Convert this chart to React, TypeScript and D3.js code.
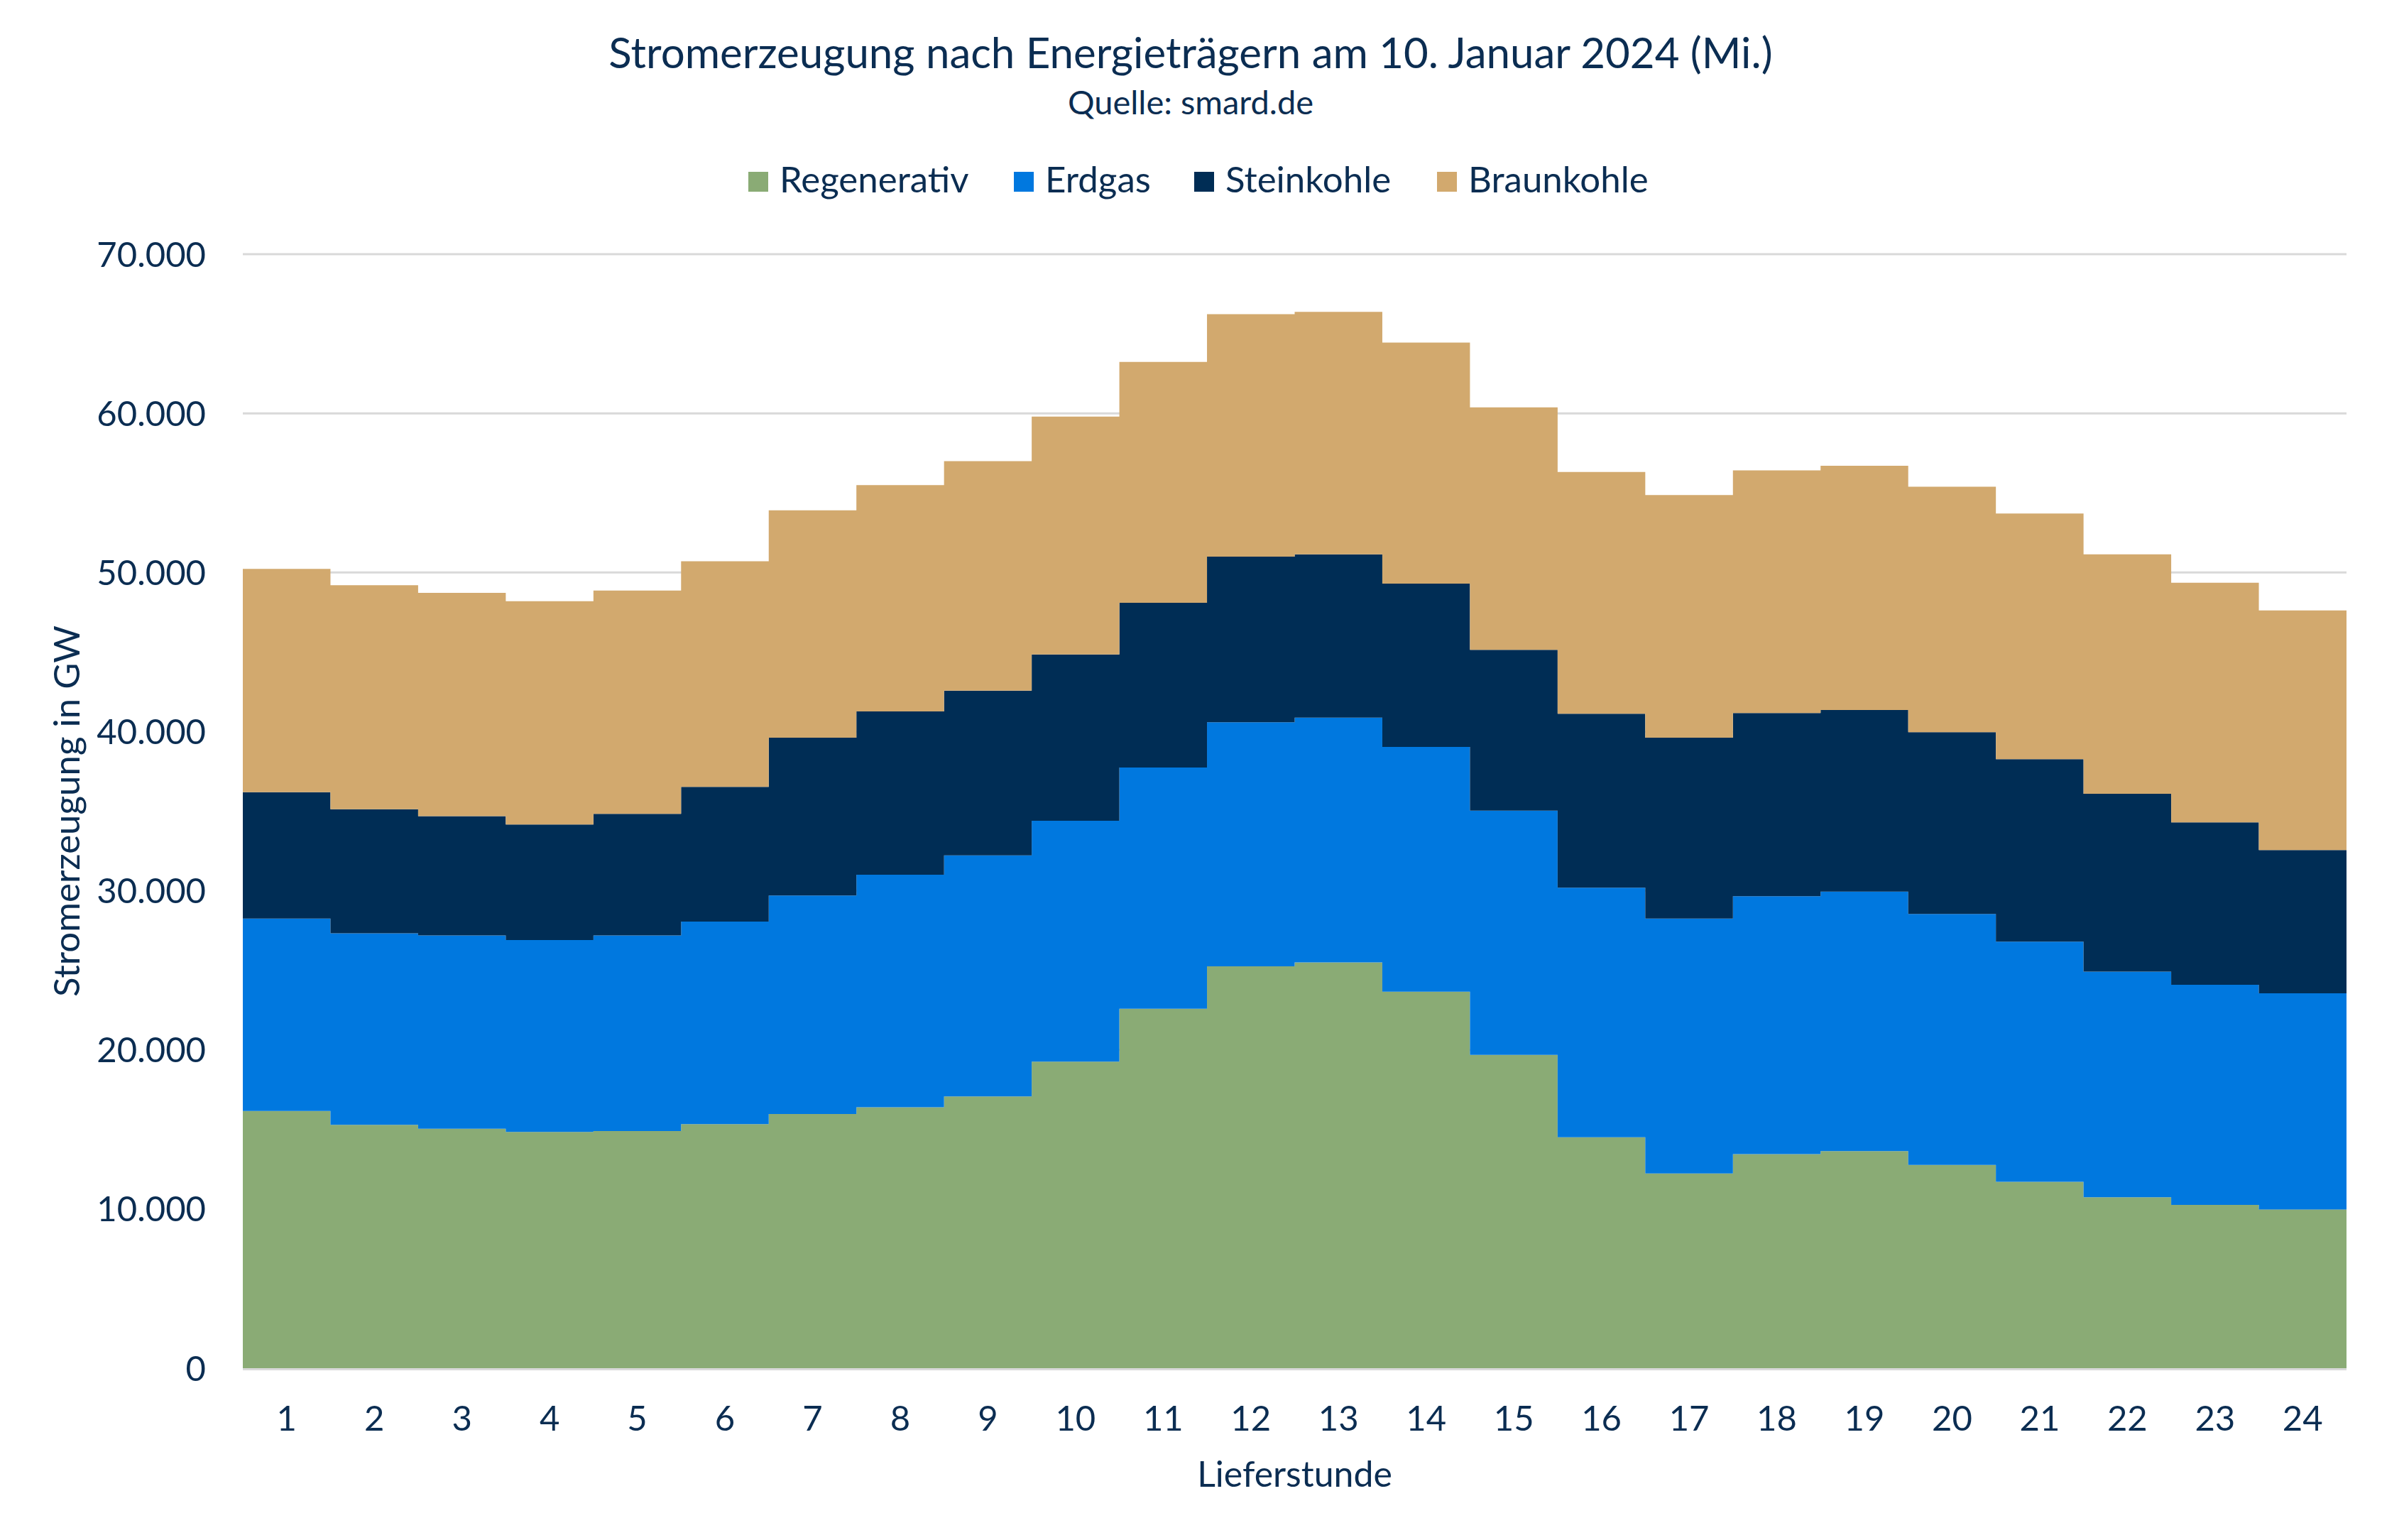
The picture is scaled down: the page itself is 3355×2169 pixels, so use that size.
import React from "react";
import * as d3 from "d3";

const hours = [1,2,3,4,5,6,7,8,9,10,11,12,13,14,15,16,17,18,19,20,21,22,23,24];
const regenerativ = [16160,15290,15050,14850,14900,15340,15970,16400,17080,19260,22590,25250,25500,23660,19690,14510,12240,13450,13640,12770,11710,10740,10260,9970];
const erdgas = [12090,12040,12140,12050,12290,12720,13730,14610,15140,15140,15150,15340,15380,15380,15340,15680,16010,16210,16310,15770,15090,14180,13830,13590];
const steinkohle = [7940,7790,7500,7260,7640,8470,9920,10260,10350,10450,10350,10400,10260,10260,10110,10930,11370,11510,11410,11420,11470,11170,10210,9000];
const braunkohle = [14030,14080,14030,14030,14030,14170,14280,14220,14420,14950,15140,15240,15240,15140,15240,15190,15240,15240,15340,15430,15430,15050,15050,15050];
const seriesNames = ["Regenerativ", "Erdgas", "Steinkohle", "Braunkohle"];
const seriesColors = ["#8AAB75", "#0078DF", "#002D55", "#D2A96E"];
const yTicks = [0,10000,20000,30000,40000,50000,60000,70000];

const W = 3355, H = 2169;
const M = { left: 342, right: 3305, top: 358, bottom: 1927 };
const TEXT = "#0B2D52";
const FONT = "Lato, 'Open Sans', sans-serif";

export default function App() {
  const rows = hours.map((h, i) => ({
    hour: h,
    Regenerativ: regenerativ[i],
    Erdgas: erdgas[i],
    Steinkohle: steinkohle[i],
    Braunkohle: braunkohle[i],
  }));
  const stack = d3.stack<any>().keys(seriesNames)(rows);
  const x = d3.scaleBand<number>().domain(hours).range([M.left, M.right]).padding(0);
  const y = d3.scaleLinear().domain([0, 70000]).range([M.bottom, M.top]);
  const bw = x.bandwidth();
  const fmt = (v: number) => (v === 0 ? "0" : d3.format(",")(v).replace(/,/g, "."));

  const area = d3
    .area<{ x: number; y0: number; y1: number }>()
    .x((d) => d.x)
    .y0((d) => d.y0)
    .y1((d) => d.y1);

  const paths = stack.map((s) => {
    const pts: { x: number; y0: number; y1: number }[] = [];
    s.forEach((d: any) => {
      const x0 = x(d.data.hour)!;
      pts.push({ x: x0, y0: y(d[0]), y1: y(d[1]) });
      pts.push({ x: x0 + bw, y0: y(d[0]), y1: y(d[1]) });
    });
    return area(pts)!;
  });

  const legendX = [1054, 1428, 1682, 2024];

  return (
    <svg
      width={W}
      height={H}
      style={{ position: "absolute", left: 0, top: 0, background: "#fff" }}
      fontFamily={FONT}
    >
      <rect width={W} height={H} fill="#fff" />
      <text x={1677} y={96} textAnchor="middle" fontSize={60} fill={TEXT}>
        Stromerzeugung nach Energieträgern am 10. Januar 2024 (Mi.)
      </text>
      <text x={1677} y={161} textAnchor="middle" fontSize={47} fill={TEXT}>
        Quelle: smard.de
      </text>
      {seriesNames.map((n, i) => (
        <g key={n}>
          <rect x={legendX[i]} y={242} width={28} height={28} fill={seriesColors[i]} />
          <text x={legendX[i] + 44} y={271} fontSize={51} fill={TEXT}>
            {n}
          </text>
        </g>
      ))}
      {yTicks.map((t) => (
        <g key={t}>
          <line x1={M.left} x2={M.right} y1={y(t)} y2={y(t)} stroke="#D9D9D9" strokeWidth={3} />
          <text x={290} y={y(t)} dy="0.36em" textAnchor="end" fontSize={49} fill={TEXT}>
            {fmt(t)}
          </text>
        </g>
      ))}
      {paths.map((p, i) => (
        <path key={i} d={p} fill={seriesColors[i]} />
      ))}
      <line x1={M.left} x2={M.right} y1={y(0) + 1.5} y2={y(0) + 1.5} stroke="#D9D9D9" strokeWidth={3} />
      {hours.map((h) => (
        <text key={h} x={x(h)! + bw / 2} y={2015} textAnchor="middle" fontSize={49} fill={TEXT}>
          {h}
        </text>
      ))}
      <text x={(M.left + M.right) / 2} y={2094} textAnchor="middle" fontSize={50} fill={TEXT}>
        Lieferstunde
      </text>
      <text
        transform={`translate(112, ${(M.top + M.bottom) / 2}) rotate(-90)`}
        textAnchor="middle"
        fontSize={51}
        fill={TEXT}
      >
        Stromerzeugung in GW
      </text>
    </svg>
  );
}
